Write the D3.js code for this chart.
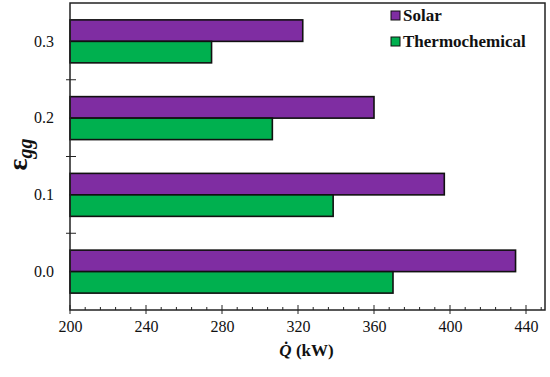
<!DOCTYPE html>
<html>
<head>
<meta charset="utf-8">
<script src="https://cdn.jsdelivr.net/npm/d3@7"></script>
<style>
  body { margin: 0; background: #fff; }
</style>
</head>
<body>
<div id="graph"></div>
<script>
// data
const categories = ["0.0", "0.1", "0.2", "0.3"];
const seriesNames = ["Solar", "Thermochemical"];
const solar = [434.5, 397, 360, 322.5];
const thermo = [370, 338.5, 306.5, 274.5];
const xTicks = [200, 240, 280, 320, 360, 400, 440];
const colours = ["#7F2DA2", "#00B04F"];

const FONT = "'Liberation Serif', 'Times New Roman', Times, serif";

let width = 550, height = 377;
let margin = { top: 3, right: 5, bottom: 67, left: 70 };

var svg = d3.select("#graph")
            .append("svg")
            .attr("width", width)
            .attr("height", height)
            .style("font-family", FONT);

// scales
var x_scale = d3.scaleLinear()
                .domain([200, 450])
                .range([margin.left, width - margin.right]);

var y_scale = d3.scaleBand()
                .domain(categories.slice().reverse())
                .range([margin.top, height - margin.bottom])
                .padding(0);

var sub_scale = d3.scaleBand()
                  .domain(seriesNames)
                  .range([y_scale.bandwidth() * 0.22, y_scale.bandwidth() * 0.78])
                  .padding(0);

const rows = categories.map((c, i) => ({ cat: c, vals: [solar[i], thermo[i]] }));

// bars
let groups = svg.append("g")
                .selectAll("g")
                .data(rows)
                .enter()
                .append("g")
                .attr("transform", d => `translate(0,${y_scale(d.cat)})`);

groups.selectAll("rect")
      .data(d => d.vals.map((v, j) => ({ name: seriesNames[j], v: v, j: j })))
      .enter()
      .append("rect")
      .attr("x", x_scale(200))
      .attr("y", d => sub_scale(d.name))
      .attr("width", d => x_scale(d.v) - x_scale(200))
      .attr("height", sub_scale.bandwidth())
      .style("fill", d => colours[d.j])
      .style("stroke", "#111")
      .style("stroke-width", 1.6);

const x0 = margin.left, x1 = width - margin.right;
const y0 = margin.top, y1 = height - margin.bottom;

// frame
svg.append("rect")
   .attr("x", x0).attr("y", y0)
   .attr("width", x1 - x0).attr("height", y1 - y0)
   .style("fill", "none")
   .style("stroke", "#222")
   .style("stroke-width", 1.5);

// x axis: majors crossing, minors inside
var x_axis = d3.axisBottom(x_scale)
               .tickValues(xTicks)
               .tickSize(0)
               .tickPadding(11);

let gx = svg.append("g")
   .attr("transform", `translate(0,${y1})`)
   .call(x_axis)
   .attr("font-family", null);
gx.select(".domain").remove();
gx.selectAll("text")
  .style("font-family", FONT)
  .style("font-size", "16px")
  .style("fill", "#111");

const minor = d3.range(200, 450, 8).filter(v => (v - 200) % 40 !== 0);
svg.append("g").selectAll("line")
   .data(minor).enter().append("line")
   .attr("x1", d => x_scale(d)).attr("x2", d => x_scale(d))
   .attr("y1", y1 - 3).attr("y2", y1)
   .style("stroke", "#222").style("stroke-width", 1);
svg.append("g").selectAll("line")
   .data(xTicks).enter().append("line")
   .attr("x1", d => x_scale(d)).attr("x2", d => x_scale(d))
   .attr("y1", y1 - 5).attr("y2", y1 + 4)
   .style("stroke", "#222").style("stroke-width", 1);

// y axis
var y_axis = d3.axisLeft(y_scale).tickSize(0).tickPadding(16);
let gy = svg.append("g")
   .attr("transform", `translate(${x0},0)`)
   .call(y_axis)
   .attr("font-family", null);
gy.select(".domain").remove();
gy.selectAll("text")
  .style("font-family", FONT)
  .style("font-size", "16px")
  .style("fill", "#111");

const bounds = categories.slice(1).map(c => y_scale(c) + y_scale.bandwidth());
svg.append("g").selectAll("line")
   .data(bounds).enter().append("line")
   .attr("x1", x0 - 4).attr("x2", x0 + 6)
   .attr("y1", d => d).attr("y2", d => d)
   .style("stroke", "#222").style("stroke-width", 1);

// axis titles
let xt = svg.append("text")
   .attr("transform", `translate(${(x0 + x1) / 2 - 1},${height - 21})`)
   .style("text-anchor", "middle")
   .style("font-family", FONT)
   .style("font-size", "17px")
   .style("font-weight", "bold")
   .style("fill", "#111");
xt.append("tspan").style("font-style", "italic").text("Q\u0307");
xt.append("tspan").text(" (kW)");

let yt = svg.append("text")
   .attr("transform", `translate(27,${(y0 + y1) / 2 - 2}) rotate(-90)`)
   .style("text-anchor", "middle")
   .style("font-family", FONT)
   .style("font-weight", "bold")
   .style("fill", "#111");
yt.append("tspan").style("font-size", "28px").text("\u03B5");
yt.append("tspan").style("font-size", "20px").style("font-style", "italic").attr("dy", 5).text("gg");

// legend
let legend = svg.append("g")
                .selectAll("g")
                .data(seriesNames)
                .enter()
                .append("g")
                .attr("transform", (d, i) => `translate(391,${11 + i * 26})`);

legend.append("rect")
      .attr("width", 9).attr("height", 9)
      .style("fill", (d, i) => colours[i])
      .style("stroke", "#111")
      .style("stroke-width", 1);

legend.append("text")
      .attr("x", 12).attr("y", 10)
      .style("font-family", FONT)
      .style("font-size", "17px")
      .style("font-weight", "bold")
      .style("fill", "#111")
      .text(d => d);
</script>
</body>
</html>
